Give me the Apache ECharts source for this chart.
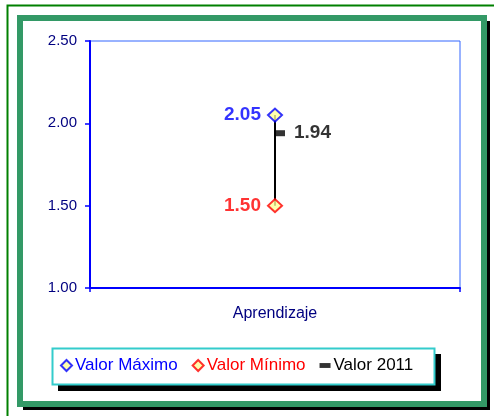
<!DOCTYPE html>
<html>
<head>
<meta charset="utf-8">
<script src="https://cdn.jsdelivr.net/npm/echarts@6/dist/echarts.min.js"></script>
<style>
  html, body { margin: 0; padding: 0; background: #fff; }
  #chart { width: 494px; height: 416px; }
</style>
</head>
<body>
<div id="chart"></div>
<script>
const categories = ["Aprendizaje"];
const valorMaximo = [2.05];
const valorMinimo = [1.5];
const valor2011 = [1.94];
const yTicks = { min: 1, max: 2.5, interval: 0.5 };

const FONT = 'Arial, "Liberation Sans", sans-serif';
const chart = echarts.init(document.getElementById("chart"));

const option = {
  animation: false,
  textStyle: { fontFamily: FONT },
  graphic: [
    // outer thin green frame
    { type: "rect", z: -10, shape: { x: 7.5, y: 5.5, width: 520, height: 440 },
      style: { fill: "#fff", stroke: "#008000", lineWidth: 2 } },
    // shadow of inner frame
    { type: "rect", z: -9, shape: { x: 23, y: 21, width: 467, height: 389 },
      style: { fill: "#000" } },
    // thick green frame
    { type: "rect", z: -8, shape: { x: 20, y: 18, width: 464, height: 386 },
      style: { fill: "#fff", stroke: "#339966", lineWidth: 6 } },
    // legend box and its shadow
    { type: "rect", z: -7, shape: { x: 58, y: 354, width: 383, height: 37 },
      style: { fill: "#000" } },
    { type: "rect", z: -6, shape: { x: 52.5, y: 348.5, width: 382, height: 36 },
      style: { fill: "#fff", stroke: "#33cccc", lineWidth: 2 } }
  ],
  grid: {
    left: 90, top: 41, right: 34, bottom: 128,
    show: true, borderColor: "#3366ff", borderWidth: 1
  },
  legend: {
    left: 52, top: 348,
    padding: [9, 16, 9, 8],
    itemGap: 14,
    itemWidth: 11, itemHeight: 11,
    textStyle: { fontSize: 17, fontFamily: FONT, padding: [0, 0, 0, -2] },
    data: [
      { name: "Valor Máximo", icon: "diamond", textStyle: { color: "#0000ff" } },
      { name: "Valor Mínimo", icon: "diamond", textStyle: { color: "#ff0000" } },
      { name: "Valor 2011", icon: "path://M0,0L9,0L9,4L0,4Z", textStyle: { color: "#000" } }
    ]
  },
  xAxis: {
    type: "category",
    data: categories,
    axisLine: { lineStyle: { color: "#0000ff", width: 2 } },
    axisTick: { show: true, length: 4, lineStyle: { color: "#0000ff", width: 1.5 } },
    axisLabel: { color: "#000080", fontSize: 16, margin: 18 }
  },
  yAxis: {
    type: "value",
    min: yTicks.min, max: yTicks.max, interval: yTicks.interval,
    splitLine: { show: false },
    axisLine: { show: true, lineStyle: { color: "#0000ff", width: 2 } },
    axisTick: { show: true, length: 5, lineStyle: { color: "#0000ff", width: 1.5 } },
    axisLabel: {
      color: "#000080", fontSize: 15, margin: 13,
      formatter: (v) => v.toFixed(2)
    }
  },
  series: [
    {
      name: "rango",
      type: "custom",
      z: 1,
      data: categories.map((c, i) => [i, valorMinimo[i], valorMaximo[i]]),
      renderItem: function (params, api) {
        const lo = api.coord([api.value(0), api.value(1)]);
        const hi = api.coord([api.value(0), api.value(2)]);
        return {
          type: "line",
          shape: { x1: lo[0], y1: lo[1], x2: hi[0], y2: hi[1] },
          style: { stroke: "#000", lineWidth: 2 }
        };
      }
    },
    {
      name: "Valor 2011",
      type: "scatter",
      z: 3,
      data: valor2011,
      symbol: "rect",
      symbolSize: [9, 6],
      symbolOffset: [5.5, 0],
      itemStyle: { color: "#000" },
      label: {
        show: true, position: "right", distance: 9,
        color: "#000", fontSize: 19, fontWeight: "bold",
        formatter: (p) => p.value.toFixed(2)
      }
    },
    {
      name: "Valor Máximo",
      type: "scatter",
      z: 4,
      data: valorMaximo,
      symbol: "diamond",
      symbolSize: [14, 13],
      itemStyle: { color: "#ffff99", borderColor: "#0000ff", borderWidth: 2 },
      label: {
        show: true, position: "left", distance: 6,
        color: "#0000ff", fontSize: 19, fontWeight: "bold",
        formatter: (p) => p.value.toFixed(2)
      }
    },
    {
      name: "Valor Mínimo",
      type: "scatter",
      z: 4,
      data: valorMinimo,
      symbol: "diamond",
      symbolSize: [14, 13],
      itemStyle: { color: "#ffff99", borderColor: "#ff0000", borderWidth: 2 },
      label: {
        show: true, position: "left", distance: 6,
        color: "#ff0000", fontSize: 19, fontWeight: "bold",
        formatter: (p) => p.value.toFixed(2)
      }
    }
  ]
};

chart.setOption(option);
</script>
</body>
</html>
